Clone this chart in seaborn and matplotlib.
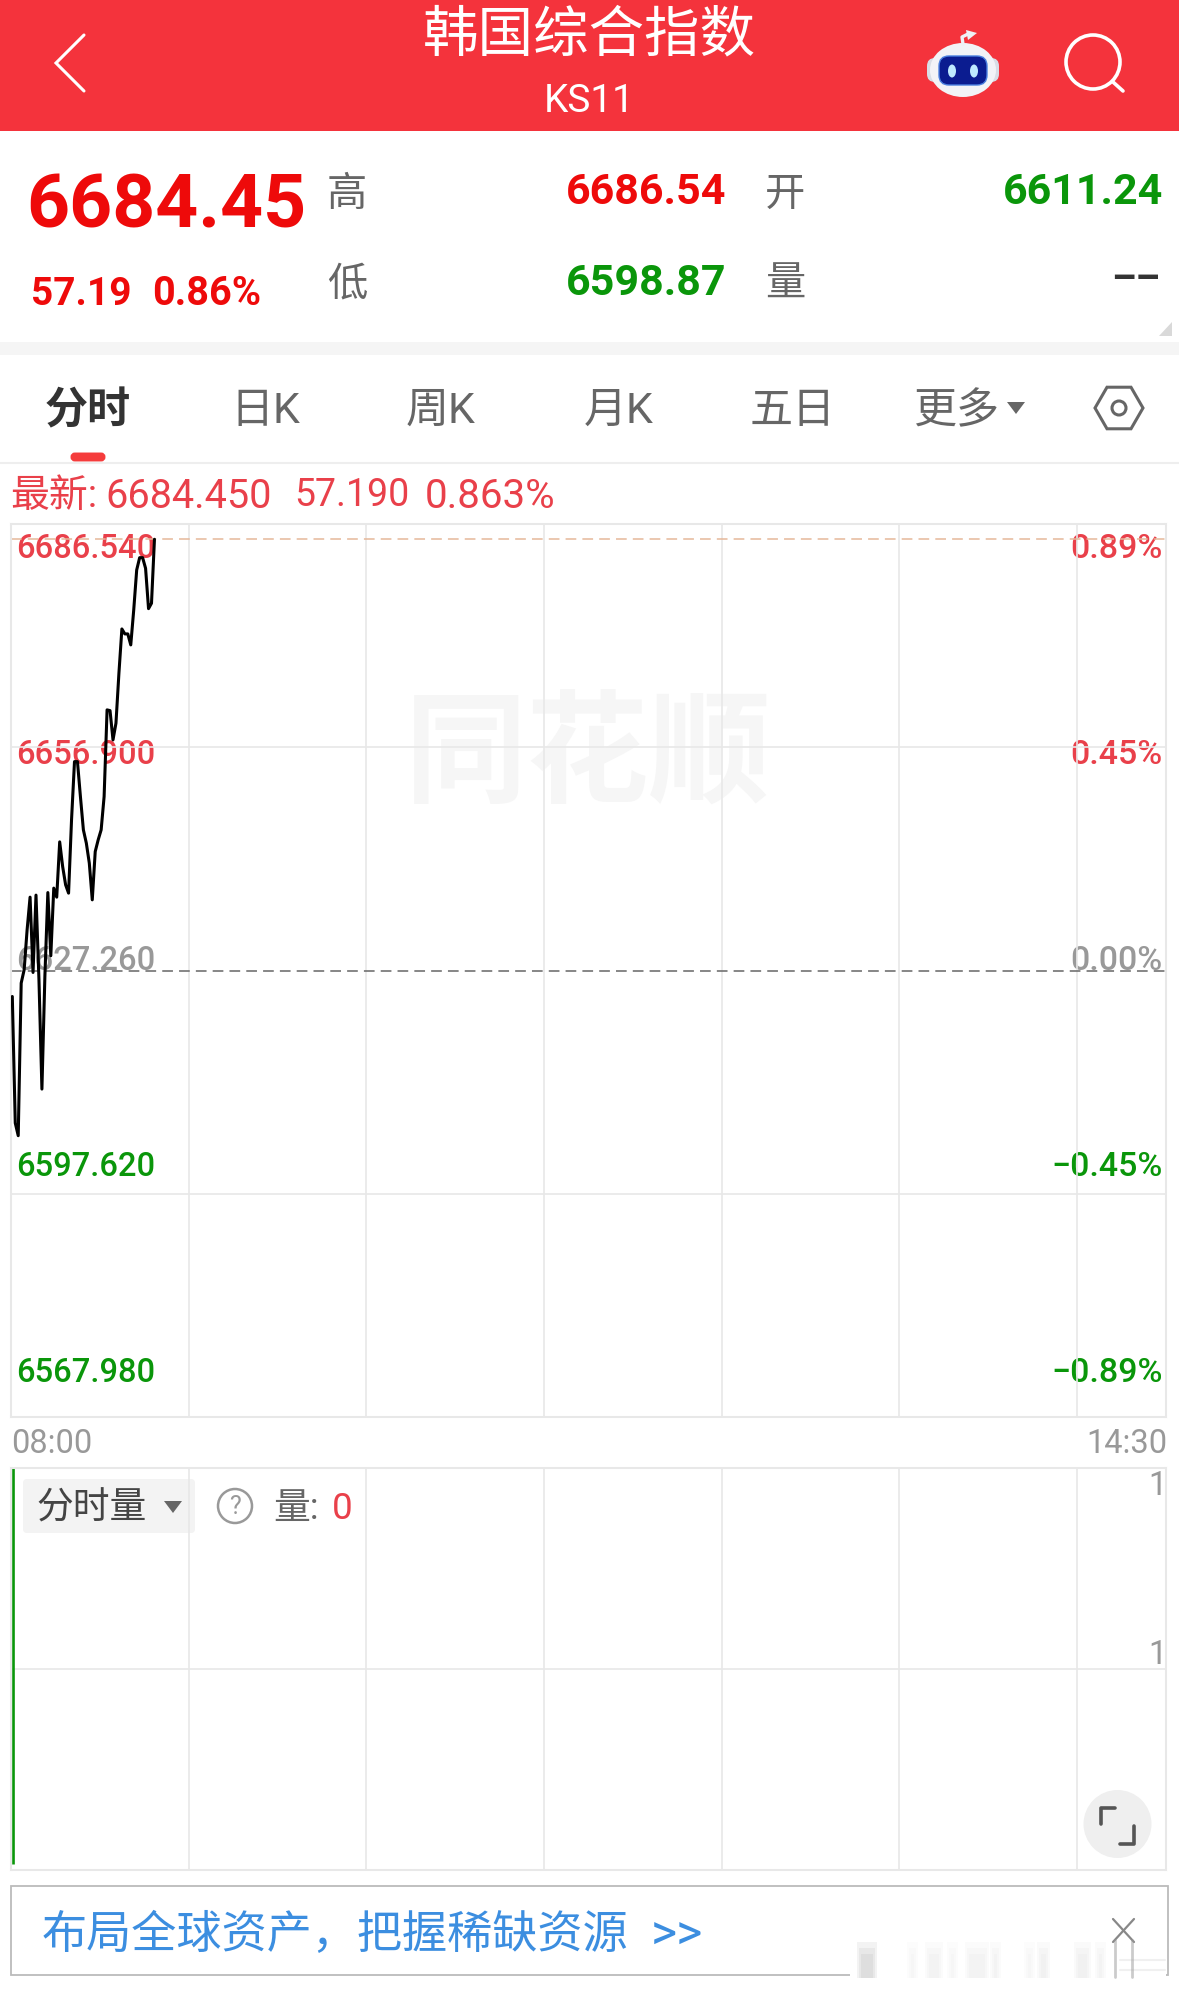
import numpy as np
import pandas as pd
import matplotlib
matplotlib.use("Agg")
import matplotlib.pyplot as plt
from matplotlib.patches import Circle, Ellipse, FancyBboxPatch, Polygon, Rectangle
import seaborn as sns

sns.set_theme(style="white")
plt.rcParams['font.family'] = ['Roboto', 'Noto Sans CJK SC', 'DejaVu Sans']
plt.rcParams['axes.unicode_minus'] = False

# ---- data ----
minutes = list(range(49))
prices = [6623.69, 6606.32, 6604.58, 6625.53, 6627.36, 6632.85, 6637.33, 6626.99, 6637.61, 6625.98,
          6610.98, 6626.44, 6637.96, 6629.28, 6638.57, 6637.33, 6644.92, 6641.53, 6639.02, 6637.88,
          6647.94, 6655.94, 6655.94, 6651.14, 6646.57, 6644.74, 6642.00, 6636.96, 6643.59, 6645.20,
          6646.57, 6651.14, 6663.04, 6662.94, 6658.92, 6661.21, 6668.07, 6674.15, 6673.47, 6673.47,
          6671.96, 6676.76, 6682.25, 6683.94, 6683.94, 6682.48, 6676.94, 6677.68, 6686.46]
prev_close = 6627.26
high_price = 6686.54
price_labels = ["6686.540", "6656.900", "6627.260", "6597.620", "6567.980"]
pct_labels = ["0.89%", "0.45%", "0.00%", "−0.45%", "−0.89%"]
time_labels = ["08:00", "14:30"]
hour_ticks = [60, 120, 180, 240, 300, 360]
vol_minutes = [0.6]
vol_values = [1.0]
vol_labels = ["1", "1"]
tabs = ["日K", "周K", "月K", "五日", "更多"]

W, H = 1179, 1994
RED_H = "#f4333c"
RED = "#ee0a0a"
LRED = "#e9404a"
GREEN = "#0a960a"
GRAY = "#666666"
LGRAY = "#999999"
GRID = "#e8e8e8"

fig = plt.figure(figsize=(W / 100, H / 100), dpi=100, facecolor="white")

def axes_px(x0, y0, x1, y1, **kw):
    return fig.add_axes([x0 / W, 1 - y1 / H, (x1 - x0) / W, (y1 - y0) / H], **kw)

bg = fig.add_axes([0, 0, 1, 1], zorder=0)
bg.set_xlim(0, W)
bg.set_ylim(H, 0)
bg.axis("off")

def T(x, y, s, size, color, ha="left", weight="normal", **kw):
    return bg.text(x, y + 0.11 * size, s, fontsize=size, color=color, ha=ha, va="center", fontweight=weight, **kw)

# header
bg.add_patch(Rectangle((0, 0), W, 131, color=RED_H, lw=0))
bg.plot([84, 56, 84], [35, 63, 91], color="white", lw=2.2, solid_joinstyle="miter")
T(589, 32, "韩国综合指数", 40, "white", ha="center")
T(589, 98, "KS11", 28, "white", ha="center")
# robot
bg.plot([963, 962, 968], [44, 37, 34], color="#eef1f6", lw=2.4)
bg.add_patch(Polygon([[966, 30], [977, 33], [968, 40]], color="#eef1f6", lw=0))
bg.add_patch(FancyBboxPatch((927, 58), 72, 24, boxstyle="round,pad=0,rounding_size=8", fc="#d8dde6", ec="none"))
bg.add_patch(Ellipse((963, 70), 66, 54, fc="#f2f3f7", ec="none"))
bg.add_patch(FancyBboxPatch((939, 56), 48, 29, boxstyle="round,pad=0,rounding_size=10", fc="#0b1c90", ec="#4a7fe0", lw=1))
bg.add_patch(Ellipse((952, 71), 8, 13, fc="#bfeaff", ec="none"))
bg.add_patch(Ellipse((974, 71), 8, 13, fc="#bfeaff", ec="none"))
# search
bg.add_patch(Ellipse((1093, 62), 54, 54, fc="none", ec="white", lw=2.6))
bg.plot([1113, 1123], [82, 91], color="white", lw=2.6)

# quote block
T(306, 202, "6684.45", 54, RED, ha="right", weight="bold")
T(31, 291, "57.19", 28, RED, weight="bold")
T(152, 291, "0.86%", 28.5, RED, weight="bold")
T(347, 191, "高", 29, GRAY, ha="center")
T(347, 281, "低", 29, GRAY, ha="center")
T(785, 191, "开", 29, GRAY, ha="center")
T(785, 281, "量", 29, GRAY, ha="center")
T(726, 189, "6686.54", 31, RED, ha="right", weight="bold")
T(726, 280, "6598.87", 31, GREEN, ha="right", weight="bold")
T(1163, 189, "6611.24", 31, GREEN, ha="right", weight="bold")
T(1160, 276, "––", 28, "#333333", ha="right", weight="bold")
bg.add_patch(Polygon([[1172, 322], [1172, 336], [1159, 336]], color="#d9d9d9", lw=0))
bg.add_patch(Rectangle((0, 342), W, 13, color="#f5f5f5", lw=0))

# tabs
T(88, 408, "分时", 31, "#333333", ha="center", weight="bold")
for label, xc in zip(tabs, [265, 441, 619, 793, 957]):
    T(xc, 408, label, 31, GRAY, ha="center")
bg.add_patch(Polygon([[1007, 402], [1025, 402], [1016, 414]], color=GRAY, lw=0))
hx = [1119 + 24 * np.cos(a) for a in np.deg2rad([0, 60, 120, 180, 240, 300])]
hy = [408 + 24 * np.sin(a) for a in np.deg2rad([0, 60, 120, 180, 240, 300])]
bg.add_patch(Polygon(np.c_[hx, hy], fc="none", ec=GRAY, lw=2.2))
bg.add_patch(Circle((1119, 408), 7, fc="none", ec=GRAY, lw=2.2))
bg.add_patch(FancyBboxPatch((74, 456), 28, 2, boxstyle="round,pad=0,rounding_size=1", fc="#f53c3c", ec="#f53c3c", lw=5))
bg.plot([0, W], [463, 463], color="#eeeeee", lw=1.5)

# latest line
T(10, 493, "最新:", 28, LRED)
T(105, 493, "6684.450", 28.5, LRED)
T(294, 493, "57.190", 27, LRED)
T(425, 493, "0.863%", 29, LRED)

# watermark
T(588, 750, "同花顺", 88, "#f6f6f6", ha="center", weight="bold")

# price scale labels
label_y = [546, 752, 958, 1164, 1370]
label_col = [LRED, LRED, LGRAY, GREEN, GREEN]
for s, p, yy, c in zip(price_labels, pct_labels, label_y, label_col):
    T(16, yy, s, 23.5, c, weight=500)
    T(1163, yy, p, 24.5, c, ha="right", weight=500)
T(11, 1441, time_labels[0], 23.5, LGRAY)
T(1167, 1441, time_labels[1], 23.5, LGRAY, ha="right")

# main chart
ax = axes_px(11, 524, 1166, 1417, zorder=2)
ax.patch.set_alpha(0)
df = pd.DataFrame({"minute": np.array(minutes) + 0.44, "price": prices})
half = 61.3
ax.set_xlim(0, 390)
ax.set_ylim(prev_close - half, prev_close + half)
ax.set_xticks(hour_ticks)
ax.set_yticks([prev_close - half / 2, prev_close + half / 2])
ax.set_xticklabels([]); ax.set_yticklabels([])
ax.grid(True, color=GRID, lw=1.2)
ax.tick_params(length=0)
for s in ax.spines.values():
    s.set_color(GRID); s.set_linewidth(1.5)
ax.axhline(prev_close, color="#666666", lw=1.1, dashes=(7, 4), zorder=2)
ax.axhline(high_price, color="#e5b89a", lw=1.1, dashes=(7, 4), zorder=2)
sns.lineplot(data=df, x="minute", y="price", ax=ax, color="black", lw=2.2, zorder=3, errorbar=None)
ax.set_xlabel(""); ax.set_ylabel("")

# volume chart
vax = axes_px(11, 1468, 1166, 1870, zorder=2)
vax.patch.set_alpha(0)
vax.set_xlim(0, 390)
vax.set_ylim(-0.015, 1.0)
vax.set_xticks(hour_ticks)
vax.set_yticks([0.4925])
vax.set_xticklabels([]); vax.set_yticklabels([])
vax.grid(True, color=GRID, lw=1.2)
vax.tick_params(length=0)
for s in vax.spines.values():
    s.set_color(GRID); s.set_linewidth(1.5)
vax.vlines(vol_minutes, 0, vol_values, color=GREEN, lw=1.9)

bg.add_patch(FancyBboxPatch((23, 1479), 172, 54, boxstyle="round,pad=0,rounding_size=4", fc="#f3f3f3", ec="none"))
T(92, 1506, "分时量", 26.5, "#444444", ha="center")
bg.add_patch(Polygon([[164, 1501], [182, 1501], [173, 1513]], color=GRAY, lw=0))
bg.add_patch(Circle((235, 1506), 17, fc="none", ec=LGRAY, lw=1.8))
T(235, 1505, "?", 18, LGRAY, ha="center")
T(273, 1506, "量:", 26.5, GRAY)
T(332, 1506, "0", 26.5, LRED)
T(1167, 1483, vol_labels[0], 23.5, LGRAY, ha="right")
T(1167, 1652, vol_labels[1], 23.5, LGRAY, ha="right")

# expand button (above the axes)
btn = fig.add_axes([0, 0, 1, 1], zorder=3)
btn.set_xlim(0, W); btn.set_ylim(H, 0); btn.axis("off")
btn.add_patch(Circle((1117.5, 1824), 34, fc="#efefef", ec="none"))
btn.plot([1117 - 16, 1117 - 16, 1117 - 2], [1824 + 0, 1824 - 16, 1824 - 16], color="#555555", lw=2.6)
btn.plot([1118 + 16, 1118 + 16, 1118 + 2], [1824 + 2, 1824 + 20, 1824 + 20], color="#555555", lw=2.6)

# banner
bg.add_patch(Rectangle((11, 1886), 1157, 89, fc="white", ec="#bbbbbb", lw=1.3))
T(42, 1932, "布局全球资产，把握稀缺资源", 32.5, "#3c8ee0")
T(651, 1932, ">>", 36, "#3c8ee0")

# blurred corner stamp over the banner
btn.add_patch(Rectangle((850, 1971), 316, 9, fc="white", ec="none"))
for x0, x1, a in [(860, 874, 0.16), (910, 915, 0.04), (928, 940, 0.05), (950, 955, 0.04), (968, 986, 0.05),
                  (993, 998, 0.05), (1027, 1032, 0.04), (1040, 1047, 0.06), (1077, 1088, 0.06), (1098, 1103, 0.05)]:
    for pad in (0, 2, 4):
        btn.add_patch(Rectangle((x0 - 3 + pad, 1942 + 3 * pad), x1 - x0 + 6 - 2 * pad, 36 - 3 * pad,
                                fc="#888888", ec="none", alpha=a * 0.6))
for yy in [1960, 1970]:
    btn.plot([1120, 1165], [yy, yy], color="#888888", lw=1.5, alpha=0.12)
btn.plot([1113, 1134], [1919, 1942], color="#888888", lw=1.6)
btn.plot([1134, 1113], [1919, 1942], color="#888888", lw=1.6)
btn.plot([1115, 1115], [1940, 1977], color="#999999", lw=2, alpha=0.5)
btn.plot([1132, 1132], [1940, 1977], color="#999999", lw=2, alpha=0.5)

fig.savefig("out.png", dpi=100)
